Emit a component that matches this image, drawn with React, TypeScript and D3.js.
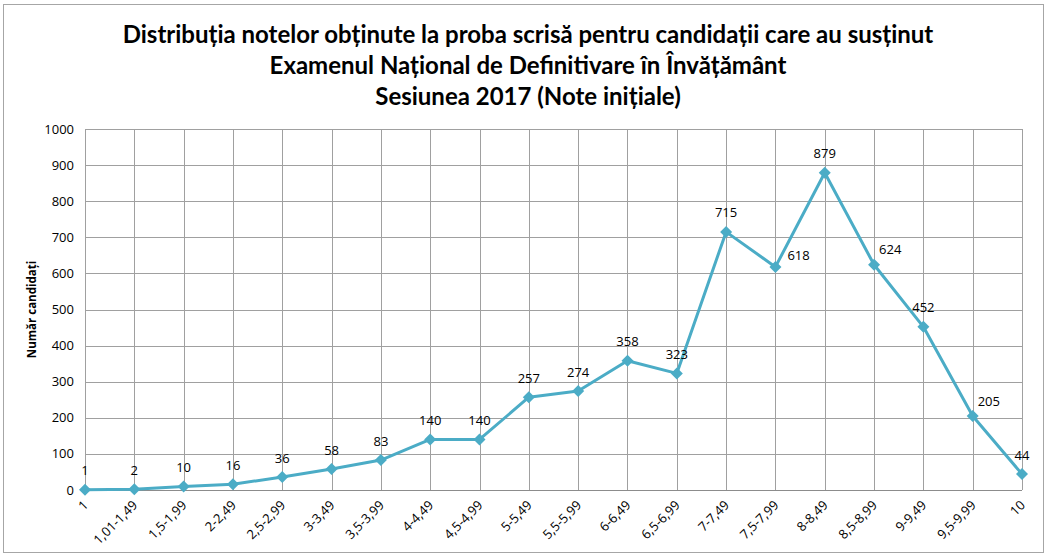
import React, { useEffect, useRef } from 'react';
import * as d3 from 'd3';

const categories = [
  '1', '1,01-1,49', '1,5-1,99', '2-2,49', '2,5-2,99', '3-3,49', '3,5-3,99', '4-4,49', '4,5-4,99', '5-5,49',
  '5,5-5,99', '6-6,49', '6,5-6,99', '7-7,49', '7,5-7,99', '8-8,49', '8,5-8,99', '9-9,49', '9,5-9,99', '10',
];
const candidates = [1, 2, 10, 16, 36, 58, 83, 140, 140, 257, 274, 358, 323, 715, 618, 879, 624, 452, 205, 44];
// label placement: 'r' = right of point, 'ra' = right & above, 'a' = above
const labelPos = ['a', 'a', 'a', 'a', 'a', 'a', 'a', 'a', 'a', 'a', 'a', 'a', 'a', 'a', 'r', 'a', 'ra', 'a', 'ra', 'a'];
const yTicks = [0, 100, 200, 300, 400, 500, 600, 700, 800, 900, 1000];
const titleLines = [
  'Distribuția notelor obținute la proba scrisă pentru candidații care au susținut',
  'Examenul Național de Definitivare în Învățământ',
  'Sesiunea 2017 (Note inițiale)',
];

const W = 1048;
const H = 557;
const TITLE_FONT = 'Lato, Carlito, sans-serif';
const FONT = '"Open Sans", "Noto Sans", sans-serif';

export default function App() {
  const svgRef = useRef<SVGSVGElement>(null);

  useEffect(() => {
    if (!svgRef.current) return;
    const svg = d3.select(svgRef.current);
    svg.selectAll('*').remove();

    const left = 85;
    const right = 1022;
    const top = 129;
    const bottom = 490;

    const x = d3.scalePoint<string>().domain(categories).range([left, right]).padding(0);
    const y = d3.scaleLinear().domain([0, 1000]).range([bottom, top]);

    // outer frame
    svg.append('rect')
      .attr('x', 3.5).attr('y', 4.5)
      .attr('width', W - 8).attr('height', H - 9)
      .attr('fill', '#fff')
      .attr('stroke', '#a6a6a6')
      .attr('stroke-width', 1);

    // title
    titleLines.forEach((t, i) => {
      svg.append('text')
        .attr('x', 528)
        .attr('y', 43 + i * 31)
        .attr('text-anchor', 'middle')
        .attr('font-family', TITLE_FONT)
        .attr('font-weight', 'bold')
        .attr('font-size', '24px')
        .attr('fill', '#000')
        .text(t);
    });

    const g = svg.append('g');

    // horizontal grid
    g.selectAll('.hgrid')
      .data(yTicks.filter(d => d > 0))
      .enter()
      .append('line')
      .attr('x1', left).attr('x2', right)
      .attr('y1', d => Math.round(y(d)) + 0.5).attr('y2', d => Math.round(y(d)) + 0.5)
      .attr('stroke', '#a0a0a0').attr('stroke-width', 1);

    // vertical grid
    g.selectAll('.vgrid')
      .data(categories)
      .enter()
      .append('line')
      .attr('x1', d => Math.round(x(d)!) + 0.5).attr('x2', d => Math.round(x(d)!) + 0.5)
      .attr('y1', top).attr('y2', bottom)
      .attr('stroke', '#a0a0a0').attr('stroke-width', 1);

    // x axis line
    g.append('line')
      .attr('x1', left).attr('x2', right)
      .attr('y1', Math.round(y(0)) + 0.5).attr('y2', Math.round(y(0)) + 0.5)
      .attr('stroke', '#8c8c8c').attr('stroke-width', 1);

    // y tick labels
    g.selectAll('.ytick')
      .data(yTicks)
      .enter()
      .append('text')
      .attr('x', left - 11)
      .attr('y', d => y(d))
      .attr('dy', '0.35em')
      .attr('text-anchor', 'end')
      .attr('font-family', FONT)
      .attr('font-size', '13px')
      .attr('fill', '#000')
      .text(d => String(d));

    // y axis title
    svg.append('text')
      .attr('transform', `translate(36, ${(top + bottom) / 2}) rotate(-90)`)
      .attr('text-anchor', 'middle')
      .attr('font-family', FONT)
      .attr('font-weight', 'bold')
      .attr('font-size', '11.5px')
      .attr('fill', '#000')
      .text('Număr candidați');

    // x tick labels
    g.selectAll('.xtick')
      .data(categories)
      .enter()
      .append('text')
      .attr('transform', d => `translate(${x(d)! + 4}, ${bottom + 16}) rotate(-45)`)
      .attr('text-anchor', 'end')
      .attr('font-family', FONT)
      .attr('font-size', '13px')
      .attr('fill', '#000')
      .text(d => d);

    // line
    const line = d3.line<number>()
      .x((_, i) => x(categories[i])!)
      .y(d => y(d));

    g.append('path')
      .datum(candidates)
      .attr('d', line)
      .attr('fill', 'none')
      .attr('stroke', '#4bacc6')
      .attr('stroke-width', 3)
      .attr('stroke-linejoin', 'round');

    // diamond markers
    const diamond = d3.symbol().type(d3.symbolSquare).size(72);
    g.selectAll('.marker')
      .data(candidates)
      .enter()
      .append('path')
      .attr('d', diamond)
      .attr('transform', (d, i) => `translate(${x(categories[i])}, ${y(d)}) rotate(45)`)
      .attr('fill', '#4bacc6');

    // data labels
    g.selectAll('.dlabel')
      .data(candidates)
      .enter()
      .append('text')
      .attr('x', (d, i) => {
        const p = labelPos[i];
        const cx = x(categories[i])!;
        if (p === 'r') return cx + 12;
        if (p === 'ra') return cx + 5;
        return cx;
      })
      .attr('y', (d, i) => {
        const p = labelPos[i];
        const cy = y(d);
        if (p === 'r') return cy - 11;
        if (p === 'ra') return cy - 15;
        return cy - 19;
      })
      .attr('dy', '0.35em')
      .attr('text-anchor', (d, i) => (labelPos[i] === 'a' ? 'middle' : 'start'))
      .attr('font-family', FONT)
      .attr('font-size', '13px')
      .attr('fill', '#000')
      .text(d => String(d));
  }, []);

  return (
    <svg ref={svgRef} width={W} height={H} style={{ display: 'block', position: 'absolute', left: 0, top: 0 }} />
  );
}
